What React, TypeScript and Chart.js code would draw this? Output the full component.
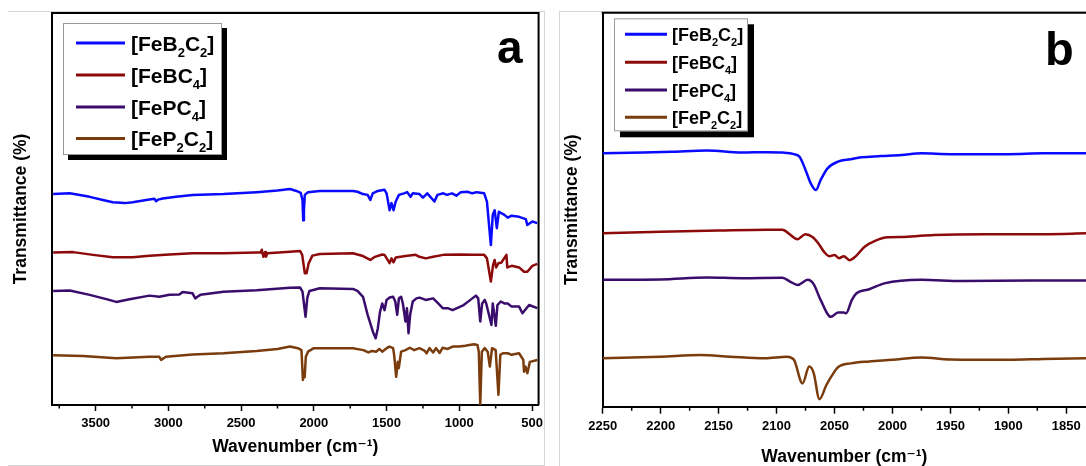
import React, { useEffect, useRef } from "react";
import { Chart, registerables } from "chart.js";

Chart.register(...registerables);

const FONT = "'Liberation Sans', Arial, 'DejaVu Sans', sans-serif";

const seriesLabels = ["[FeB₂C₂]", "[FeBC₄]", "[FePC₄]", "[FeP₂C₂]"];
const seriesColors = ["#0a0aff", "#8c0a0a", "#3a0d6c", "#7a3c0c"];
const xTitle = "Wavenumber (cm⁻¹)";
const yTitle = "Transmittance (%)";

// ---- Panel a: full range spectra, [wavenumber, transmittance (offset, a.u.)]
const aFeB2C2 = [
  [3792, 53.8], [3678, 54.0], [3541, 53.1], [3450, 52.3], [3382, 51.7], [3300, 51.5], [3245, 51.7],
  [3153, 52.3], [3096, 52.6], [3084, 52.0], [3070, 52.4], [3039, 52.7], [2947, 53.1], [2834, 53.6],
  [2621, 53.8], [2393, 54.3], [2250, 54.7], [2164, 55.1], [2120, 54.6], [2090, 54.1], [2078, 52.3],
  [2073, 47.1], [2068, 49.7], [2062, 53.6], [2040, 54.3], [1959, 54.6], [1731, 54.6], [1700, 54.4],
  [1662, 53.8], [1630, 53.6], [1612, 52.3], [1595, 54.0], [1560, 54.6], [1514, 54.9], [1500, 54.0],
  [1479, 49.7], [1466, 51.5], [1452, 49.7], [1437, 51.9], [1415, 53.6], [1380, 54.0], [1358, 54.3],
  [1335, 53.1], [1320, 54.0], [1274, 53.8], [1250, 52.9], [1220, 54.0], [1171, 51.9], [1150, 53.6],
  [1110, 54.0], [1085, 53.6], [1050, 54.0], [1020, 53.4], [990, 54.3], [945, 54.4], [910, 54.0],
  [880, 54.3], [829, 54.0], [810, 51.9], [783, 40.8], [770, 48.5], [757, 49.7], [742, 45.1],
  [728, 49.3], [690, 48.5], [667, 47.8], [640, 48.3], [589, 48.0], [543, 47.4], [532, 45.9],
  [498, 46.8], [464, 46.4],
];
const aFeBC4 = [
  [3792, 38.9], [3655, 39.0], [3518, 38.3], [3382, 37.7], [3245, 37.7], [3130, 38.1], [2993, 38.4],
  [2834, 38.7], [2621, 38.7], [2393, 38.9], [2365, 38.9], [2358, 39.6], [2347, 37.8], [2335, 39.0],
  [2329, 37.8], [2320, 38.7], [2164, 39.1], [2095, 39.3], [2080, 38.3], [2062, 33.6], [2050, 33.6],
  [2035, 36.2], [2010, 38.1], [1959, 38.5], [1731, 38.7], [1662, 38.0], [1612, 37.0], [1580, 37.8],
  [1530, 38.4], [1514, 38.3], [1479, 36.2], [1466, 37.4], [1452, 36.4], [1437, 37.6], [1370, 38.0],
  [1300, 38.3], [1274, 37.8], [1230, 37.4], [1180, 37.8], [1110, 38.3], [1000, 38.4], [900, 38.3],
  [829, 38.3], [810, 37.4], [783, 31.5], [768, 35.7], [757, 37.0], [747, 35.1], [730, 36.2],
  [712, 36.3], [690, 37.5], [676, 38.3], [670, 35.1], [640, 35.5], [589, 35.1], [555, 34.0],
  [532, 34.0], [498, 35.5], [464, 36.0],
];
const aFePC4 = [
  [3792, 29.1], [3678, 29.2], [3541, 28.1], [3427, 27.0], [3358, 26.3], [3267, 27.0], [3130, 27.9],
  [3062, 27.6], [2993, 28.1], [2925, 28.2], [2902, 28.8], [2834, 28.5], [2815, 27.2], [2800, 27.6],
  [2780, 28.1], [2621, 28.9], [2393, 29.3], [2164, 29.9], [2095, 30.0], [2078, 28.9], [2057, 22.5],
  [2045, 27.3], [2030, 29.1], [1959, 29.8], [1731, 29.6], [1700, 29.1], [1662, 27.6], [1630, 23.0],
  [1594, 18.7], [1575, 17.0], [1560, 19.6], [1545, 23.8], [1530, 25.9], [1514, 24.2], [1500, 26.8],
  [1479, 27.4], [1455, 27.6], [1440, 26.4], [1427, 23.0], [1415, 27.2], [1400, 27.6], [1388, 25.9],
  [1370, 21.3], [1360, 24.7], [1349, 18.3], [1338, 23.0], [1320, 26.4], [1295, 27.2], [1274, 27.4],
  [1230, 26.8], [1180, 27.2], [1145, 25.9], [1114, 24.7], [1080, 24.7], [1046, 24.2], [970, 25.5],
  [935, 26.5], [886, 27.9], [870, 27.2], [856, 21.3], [843, 25.9], [825, 26.8], [815, 25.9],
  [779, 20.4], [770, 25.9], [749, 20.2], [738, 25.5], [715, 26.4], [690, 25.9], [667, 25.9],
  [640, 25.1], [589, 25.1], [566, 23.4], [520, 25.5], [464, 24.7],
];
const aFeP2C2 = [
  [3792, 12.7], [3587, 12.5], [3358, 11.9], [3130, 12.3], [3062, 12.3], [3050, 11.5], [3016, 12.3],
  [2834, 12.9], [2621, 13.2], [2393, 13.8], [2250, 14.3], [2164, 14.9], [2110, 14.5], [2085, 14.0],
  [2075, 6.4], [2069, 8.4], [2063, 7.1], [2055, 12.3], [2040, 13.6], [2000, 14.5], [1959, 14.5],
  [1731, 14.5], [1660, 14.0], [1625, 13.4], [1600, 13.8], [1570, 13.6], [1550, 14.3], [1530, 13.6],
  [1500, 14.5], [1480, 14.9], [1455, 14.5], [1448, 12.8], [1434, 7.2], [1423, 11.0], [1416, 9.4],
  [1400, 13.6], [1370, 14.0], [1340, 14.6], [1310, 14.0], [1274, 14.5], [1240, 13.9], [1225, 13.2],
  [1205, 14.5], [1180, 13.4], [1160, 14.5], [1135, 13.3], [1115, 14.6], [1080, 14.3], [1046, 14.9],
  [1000, 14.9], [960, 15.1], [900, 15.5], [875, 15.3], [866, 13.6], [856, 0.0], [845, 13.6],
  [825, 14.5], [805, 13.6], [790, 9.8], [775, 14.5], [750, 14.0], [731, 2.6], [718, 12.8],
  [700, 13.2], [667, 13.2], [640, 12.8], [589, 13.2], [560, 11.5], [555, 8.5], [545, 9.8],
  [532, 8.1], [515, 11.0], [464, 11.5],
];

// ---- Panel b: C≡N / C≡O stretching region
const bFeB2C2 = [
  [2250, 64.3], [2215, 64.5], [2190, 64.7], [2160, 65.0], [2130, 64.5], [2108, 64.6], [2095, 64.5],
  [2085, 64.1], [2080, 63.4], [2075, 60.1], [2070.5, 56.7], [2066, 55.0], [2062, 57.5], [2056, 60.5],
  [2047, 62.2], [2036, 62.8], [2027, 63.3], [2010, 63.6], [1992, 63.9], [1975, 64.3], [1950, 64.1],
  [1900, 64.1], [1870, 64.3], [1833, 64.3],
];
const bFeBC4 = [
  [2250, 44.0], [2200, 44.4], [2150, 44.7], [2108, 44.9], [2095, 44.9], [2088, 43.6], [2082, 42.5],
  [2075, 43.8], [2069, 43.1], [2064, 41.5], [2059, 39.3], [2054.5, 38.2], [2050, 38.5], [2046, 37.7],
  [2042, 38.2], [2037, 37.2], [2032, 38.1], [2024, 40.6], [2015, 42.1], [2004, 43.0], [1990, 43.1],
  [1964, 43.6], [1920, 43.8], [1870, 43.8], [1833, 44.0],
];
const bFePC4 = [
  [2250, 32.2], [2200, 32.3], [2160, 32.8], [2130, 32.6], [2095, 32.7], [2088, 31.7], [2082, 30.9],
  [2073, 32.2], [2068, 31.1], [2062, 27.1], [2053, 22.8], [2047, 23.9], [2042, 23.9], [2040, 23.7],
  [2035, 27.1], [2031, 28.8], [2020, 29.8], [2007, 31.3], [1975, 32.2], [1940, 31.9], [1880, 32.0],
  [1833, 32.0],
];
const bFeP2C2 = [
  [2250, 12.3], [2200, 12.7], [2166, 13.1], [2140, 12.7], [2110, 12.3], [2091, 12.7], [2085, 11.9],
  [2077.6, 5.9], [2071.8, 10.2], [2068, 8.6], [2063, 1.9], [2057, 5.5], [2052, 8.0], [2047, 10.0],
  [2036, 11.0], [2020, 11.5], [2000, 11.9], [1975, 12.5], [1950, 12.0], [1900, 11.9], [1870, 12.1],
  [1833, 12.3],
];

const aMajorTicks = [3500, 3000, 2500, 2000, 1500, 1000, 500];
const aMinorTicks = [3750, 3250, 2750, 2250, 1750, 1250, 750];
const bMajorTicks = [2250, 2200, 2150, 2100, 2050, 2000, 1950, 1900, 1850];
const bMinorTicks = [2225, 2175, 2125, 2075, 2025, 1975, 1925, 1875];

const SUBS = "₀₁₂₃₄₅₆₇₈₉";

function drawRichLabel(ctx: CanvasRenderingContext2D, text: string, x: number, y: number, size: number, subSize: number, subDy: number) {
  const runs: { sub: boolean; s: string }[] = [];
  for (const ch of text) {
    const si = SUBS.indexOf(ch);
    const sub = si >= 0;
    const c = sub ? String(si) : ch;
    if (runs.length && runs[runs.length - 1].sub === sub) runs[runs.length - 1].s += c;
    else runs.push({ sub, s: c });
  }
  let cx = x;
  for (const r of runs) {
    ctx.font = `bold ${r.sub ? subSize : size}px ${FONT}`;
    ctx.fillText(r.s, cx, r.sub ? y + subDy : y);
    cx += ctx.measureText(r.s).width;
  }
}

const decorPlugin = {
  id: "decor",
  afterDraw(chart: any, _args: any, opts: any) {
    const ctx: CanvasRenderingContext2D = chart.ctx;
    const area = chart.chartArea;
    const xs = chart.scales.x;
    ctx.save();
    // frame (top / right)
    ctx.strokeStyle = "#000";
    ctx.lineWidth = 2;
    ctx.beginPath();
    ctx.moveTo(area.left - 1, area.top);
    ctx.lineTo(opts.frameRight ? area.right + 1 : chart.width, area.top);
    if (opts.frameRight) {
      ctx.moveTo(area.right, area.top);
      ctx.lineTo(area.right, area.bottom);
    }
    ctx.stroke();
    // minor ticks
    ctx.lineWidth = 1.5;
    ctx.beginPath();
    opts.minorTicks.forEach((v: number) => {
      const px = xs.getPixelForValue(v);
      ctx.moveTo(px, area.bottom);
      ctx.lineTo(px, area.bottom + opts.minorLength);
    });
    ctx.stroke();
    // legend
    const L = opts.legend;
    ctx.fillStyle = "#000";
    ctx.fillRect(L.x + L.shadow, L.y + L.shadow, L.w, L.h);
    ctx.fillStyle = "#fff";
    ctx.fillRect(L.x, L.y, L.w, L.h);
    ctx.strokeStyle = "#9a9a9a";
    ctx.lineWidth = 1;
    ctx.strokeRect(L.x + 0.5, L.y + 0.5, L.w - 1, L.h - 1);
    ctx.textBaseline = "alphabetic";
    ctx.textAlign = "left";
    chart.data.datasets.forEach((ds: any, i: number) => {
      const ry = L.rows[i];
      ctx.strokeStyle = ds.borderColor;
      ctx.lineWidth = 3;
      ctx.beginPath();
      ctx.moveTo(L.lineX1, ry);
      ctx.lineTo(L.lineX2, ry);
      ctx.stroke();
      ctx.fillStyle = "#000";
      drawRichLabel(ctx, ds.label, L.textX, ry + L.baseDy, L.size, L.subSize, L.subDy);
    });
    // panel letter
    ctx.fillStyle = "#000";
    ctx.font = `bold ${opts.letterSize}px ${FONT}`;
    ctx.fillText(opts.letter, opts.letterX, opts.letterY);
    ctx.restore();
  },
};

function buildConfig(p: any) {
  const titleFont = { family: FONT, size: 17.5, weight: "bold" as const };
  return {
    type: "line" as const,
    data: {
      datasets: p.series.map((d: number[][], i: number) => ({
        label: seriesLabels[i],
        data: d,
        borderColor: seriesColors[i],
        backgroundColor: seriesColors[i],
        borderWidth: p.lineWidth,
        borderJoinStyle: "round",
        pointRadius: 0,
        fill: false,
        tension: p.smooth ? 0.4 : 0,
        cubicInterpolationMode: p.smooth ? "monotone" : "default",
      })),
    },
    options: {
      responsive: false,
      animation: false,
      events: [],
      layout: { padding: p.padding },
      plugins: {
        legend: { display: false },
        tooltip: { enabled: false },
        decor: p.decor,
      },
      scales: {
        x: {
          type: "linear",
          reverse: true,
          min: p.xMin,
          max: p.xMax,
          afterBuildTicks: (s: any) => {
            s.ticks = p.majorTicks.map((value: number) => ({ value }));
          },
          afterFit: (s: any) => {
            s.height = p.xAxisHeight;
          },
          ticks: {
            autoSkip: false,
            maxRotation: 0,
            color: "#000",
            padding: p.tickPadding,
            font: { family: FONT, size: 13, weight: "bold" },
            callback: (v: number) => String(v),
          },
          grid: {
            display: true,
            drawOnChartArea: false,
            drawTicks: true,
            tickLength: p.majorLength,
            tickColor: "#000",
            tickWidth: 1.5,
          },
          border: { display: true, color: "#000", width: 2 },
          title: {
            display: true,
            text: xTitle,
            color: "#000",
            font: titleFont,
            padding: { top: 0, bottom: p.xTitlePad },
          },
        },
        y: {
          type: "linear",
          min: 0,
          max: 100,
          ticks: { display: false },
          grid: { display: false },
          border: { display: true, color: "#000", width: 2 },
          afterFit: (s: any) => {
            s.width = p.yAxisWidth;
          },
          title: {
            display: true,
            text: yTitle,
            color: "#000",
            font: titleFont,
            padding: { top: p.yTitlePad, bottom: 0 },
          },
        },
      },
    },
    plugins: [decorPlugin],
  };
}

const panelA = {
  series: [aFeB2C2, aFeBC4, aFePC4, aFeP2C2],
  lineWidth: 2.5,
  smooth: false,
  xMin: 455,
  xMax: 3800,
  majorTicks: aMajorTicks,
  majorLength: 6,
  tickPadding: 5,
  xAxisHeight: 61,
  yAxisWidth: 52,
  xTitlePad: 8.5,
  yTitlePad: 11,
  padding: { top: 13, right: 9, left: 0, bottom: 0 },
  decor: {
    frameRight: true,
    minorTicks: aMinorTicks,
    minorLength: 3.5,
    letter: "a",
    letterSize: 46,
    letterX: 497,
    letterY: 63,
    legend: {
      x: 63, y: 23, w: 159, h: 132, shadow: 5,
      rows: [43, 75, 107, 138.5],
      lineX1: 76, lineX2: 125, textX: 131,
      size: 21, subSize: 13, baseDy: 7.5, subDy: 6,
    },
  },
};

const panelB = {
  series: [bFeB2C2, bFeBC4, bFePC4, bFeP2C2],
  lineWidth: 2.5,
  smooth: true,
  xMin: 1833,
  xMax: 2250,
  majorTicks: bMajorTicks,
  majorLength: 7,
  tickPadding: 4.5,
  xAxisHeight: 59.3,
  yAxisWidth: 52.7,
  xTitlePad: -1.8,
  yTitlePad: 12,
  padding: { top: 12.7, right: 0, left: 0, bottom: 0 },
  decor: {
    frameRight: false,
    minorTicks: bMinorTicks,
    minorLength: 4,
    letter: "b",
    letterSize: 47,
    letterX: 495,
    letterY: 65,
    legend: {
      x: 64, y: 18.3, w: 134, h: 113, shadow: 6,
      rows: [34.3, 62.3, 90, 117.3],
      lineX1: 75, lineX2: 117, textX: 122,
      size: 18, subSize: 11, baseDy: 6.5, subDy: 5,
    },
  },
};

function ChartPanel({ cfg, left, width }: { cfg: any; left: number; width: number }) {
  const ref = useRef<HTMLCanvasElement | null>(null);
  useEffect(() => {
    if (!ref.current) return;
    const chart = new Chart(ref.current, buildConfig(cfg) as any);
    return () => chart.destroy();
  }, [cfg]);
  return (
    <canvas
      ref={ref}
      width={width}
      height={466}
      style={{ position: "absolute", left, top: 0, width, height: 466 }}
    />
  );
}

export default function App() {
  return (
    <div style={{ position: "fixed", left: 0, top: 0, width: 1086, height: 466, background: "#fff", overflow: "hidden" }}>
      <div style={{ position: "absolute", left: 8, top: 11, width: 536, height: 453, borderTop: "1px solid #d6d6d6", borderRight: "1px solid #d6d6d6", borderBottom: "1px solid #d6d6d6" }} />
      <div style={{ position: "absolute", left: 559, top: 11, width: 700, height: 600, border: "1px solid #d6d6d6" }} />
      <ChartPanel cfg={panelA} left={0} width={548} />
      <ChartPanel cfg={panelB} left={550} width={536} />
    </div>
  );
}
